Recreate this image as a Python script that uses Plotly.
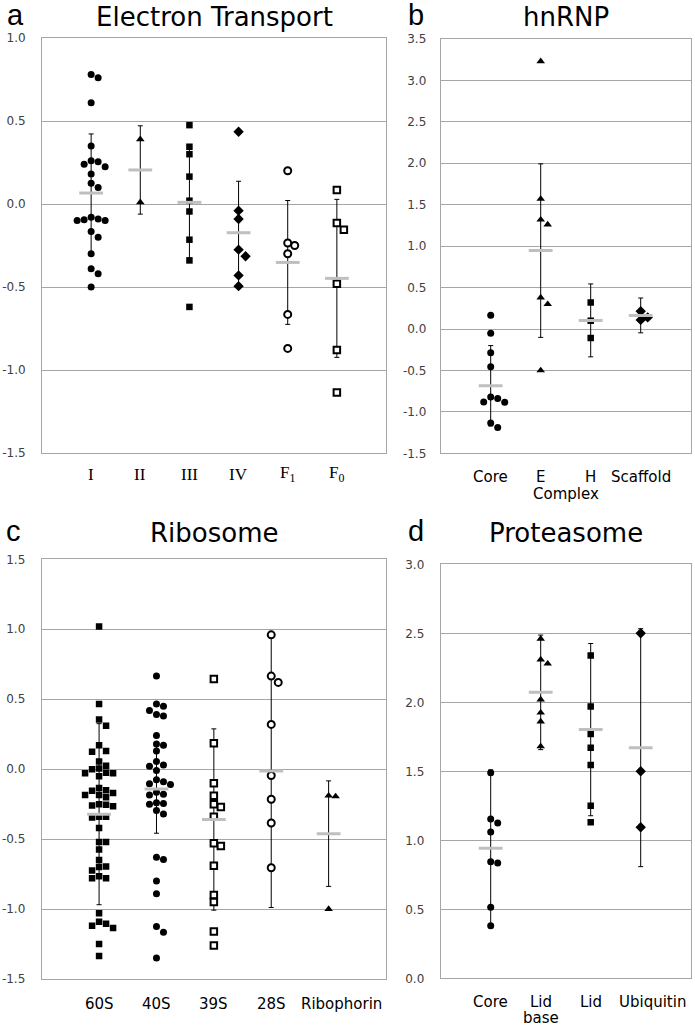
import math
import plotly.graph_objects as go

W, H = 695, 1028

# ---------------- data ----------------
# a: Electron Transport
et_cats = ["I", "II", "III", "IV", "F<sub>1</sub>", "F<sub>0</sub>"]
et_I = [0.78, 0.76, 0.61, 0.35, 0.26, 0.255, 0.24, 0.225, 0.18, 0.125, 0.10,
        -0.08, -0.09, -0.095, -0.10, -0.10, -0.165, -0.20, -0.30, -0.39, -0.42, -0.50]
et_II = [0.39, 0.01]
et_III = [0.475, 0.345, 0.30, 0.165, 0.02, -0.045, -0.215, -0.34, -0.62]
et_IV = [0.435, -0.04, -0.09, -0.275, -0.315, -0.43, -0.495]
et_F1 = [0.20, -0.235, -0.25, -0.30, -0.665, -0.87]
et_F0 = [0.085, -0.115, -0.155, -0.48, -0.88, -1.135]
et_mean = [0.066, 0.205, 0.01, -0.173, -0.352, -0.448]
et_err = [0.356, 0.266, 0.335, 0.31, 0.373, 0.476]

# b: hnRNP
hn_cats = ["Core", "E", "H", "Scaffold"]
hn_group_label = "Complex"
hn_core = [0.165, -0.05, -0.285, -0.455, -0.82, -0.84, -0.88, -0.885, -1.135, -1.19]
hn_E = [3.23, 1.57, 1.32, 1.26, 0.38, 0.30, -0.50]
hn_H = [0.32, 0.10, -0.11]
hn_scaffold = [0.215, 0.14, 0.11]
hn_mean = [-0.685, 0.946, 0.104, 0.164]
hn_err = [0.485, 1.047, 0.44, 0.21]

# c: Ribosome
rb_cats = ["60S", "40S", "39S", "28S", "Ribophorin"]
rb_60S = [1.02, 0.465, 0.355, 0.31, 0.17, 0.13, 0.125, 0.055, 0.025, 0.005, 0.0,
          -0.025, -0.03, -0.03, -0.05, -0.135, -0.15, -0.155, -0.17, -0.185, -0.185,
          -0.20, -0.25, -0.255, -0.26, -0.265, -0.34, -0.34, -0.345, -0.42, -0.52,
          -0.52, -0.575, -0.65, -0.695, -0.70, -0.725, -0.765, -0.78, -0.78, -1.03,
          -1.09, -1.105, -1.12, -1.135, -1.25, -1.335]
rb_40S = [0.665, 0.465, 0.45, 0.42, 0.39, 0.38, 0.24, 0.18, 0.17, 0.13, 0.055, 0.03,
          0.02, -0.01, -0.075, -0.09, -0.105, -0.11, -0.165, -0.18, -0.185, -0.24,
          -0.245, -0.25, -0.295, -0.32, -0.63, -0.645, -0.80, -0.89, -1.125, -1.165, -1.35]
rb_39S = [0.645, 0.185, -0.10, -0.19, -0.25, -0.27, -0.34, -0.53, -0.55, -0.69,
          -0.90, -0.95, -1.16, -1.26]
rb_28S = [0.96, 0.665, 0.62, 0.32, -0.045, -0.215, -0.385, -0.705]
rb_ribophorin = [-0.19, -0.195, -1.0]
rb_mean = [-0.322, -0.141, -0.36, -0.014, -0.461]
rb_err = [0.647, 0.317, 0.648, 0.975, 0.377]

# d: Proteasome
pr_cats = ["Core", "Lid base", "Lid", "Ubiquitin"]
pr_core = [1.49, 1.155, 1.125, 1.06, 0.845, 0.835, 0.515, 0.38]
pr_lidbase = [2.46, 2.31, 2.28, 2.02, 1.925, 1.86, 1.68]
pr_lid = [2.34, 1.97, 1.77, 1.67, 1.545, 1.25, 1.13]
pr_ubiquitin = [2.50, 1.50, 1.095]
pr_mean = [0.942, 2.072, 1.802, 1.671]
pr_err = [0.568, 0.415, 0.624, 0.862]

# ---------------- layout geometry ----------------
def px_dom(x0, x1, y0, y1):
    return [x0 / W, x1 / W], [1 - y1 / H, 1 - y0 / H]

CATFONT = dict(family="DejaVu Sans", size=15, color="black")
panels = {
    "a": dict(ax="", dom=px_dom(42, 386, 38, 453), xr=[0, 7], yr=[-1.5, 1.0],
              cats=et_cats, groups=[(et_I, "circle", False), (et_II, "triangle-up", False),
                                    (et_III, "square", False), (et_IV, "diamond", False),
                                    (et_F1, "circle", True), (et_F0, "square", True)],
              mean=et_mean, err=et_err, title="Electron Transport", letter="a",
              catfont=dict(family="Liberation Serif", size=17, color="black"),
              labely=474, ystand=13, ttl=17, shift={}),
    "b": dict(ax="2", dom=px_dom(440.7, 690.7, 39, 453.3), xr=[0, 5], yr=[-1.5, 3.5],
              cats=hn_cats, groups=[(hn_core, "circle", False), (hn_E, "triangle-up", False),
                                    (hn_H, "square", False), (hn_scaffold, "diamond", False)],
              mean=hn_mean, err=hn_err, title="hnRNP", letter="b",
              catfont=CATFONT, labely=477, ystand=11, ttl=17, shift={}),
    "c": dict(ax="3", dom=px_dom(41.7, 386, 559.3, 979), xr=[0, 6], yr=[-1.5, 1.5],
              cats=rb_cats, groups=[(rb_60S, "square", False), (rb_40S, "circle", False),
                                    (rb_39S, "square", True), (rb_28S, "circle", True),
                                    (rb_ribophorin, "triangle-up", False)],
              mean=rb_mean, err=rb_err, title="Ribosome", letter="c",
              catfont=CATFONT, labely=1004, ystand=13, ttl=533, shift={4: 13}),
    "d": dict(ax="4", dom=px_dom(440.7, 690.7, 564.3, 978.3), xr=[0, 5], yr=[0, 3.0],
              cats=pr_cats, groups=[(pr_core, "circle", False), (pr_lidbase, "triangle-up", False),
                                    (pr_lid, "square", False), (pr_ubiquitin, "diamond", False)],
              mean=pr_mean, err=pr_err, title="Proteasome", letter="d",
              catfont=CATFONT, labely=1002, ystand=13, ttl=533, shift={3: 12}),
}


def swarm(vals, cx, xpx, ypx, step=7.0, dmin=6.8):
    placed, xs = [], []
    cands = [0]
    for j in range(1, 12):
        cands += [j, -j]
    for v in vals:
        dx = 0
        for c in cands:
            dx = c * step
            if all(math.hypot(dx - px, (v - pv) * ypx) >= dmin for px, pv in placed):
                break
        placed.append((dx, v))
        xs.append(cx + dx / xpx)
    return xs


SIZES = {"circle": 7, "square": 6.5, "triangle-up": 7.5, "diamond": 8}
GRID = "#a6a6a6"
fig = go.Figure()
layout = dict(width=W, height=H,
              margin=dict(l=0, r=0, t=0, b=0, pad=0, autoexpand=False),
              paper_bgcolor="white", plot_bgcolor="white", showlegend=False)
annotations = []

for key, p in panels.items():
    ax = p["ax"]
    xd, yd = p["dom"]
    xpx = (xd[1] - xd[0]) * W / (p["xr"][1] - p["xr"][0])
    ypx = (yd[1] - yd[0]) * H / (p["yr"][1] - p["yr"][0])
    xref, yref = "x" + ax, "y" + ax
    n = len(p["cats"])
    cxs = list(range(1, n + 1))
    # error bars
    fig.add_trace(go.Scatter(x=cxs, y=p["mean"], mode="markers", xaxis=xref, yaxis=yref,
                             marker=dict(size=1, color="rgba(0,0,0,0)"),
                             error_y=dict(type="data", array=p["err"], color="black",
                                          thickness=1, width=2.5),
                             hoverinfo="skip"))
    # points
    for i, (vals, sym, opn) in enumerate(p["groups"]):
        xs = swarm(vals, i + 1, xpx, ypx)
        sz = SIZES[sym]
        if opn:
            mk = dict(symbol=sym, size=sz, color="white", line=dict(color="black", width=2))
        else:
            mk = dict(symbol=sym, size=sz, color="black", line=dict(width=0))
        fig.add_trace(go.Scatter(x=xs, y=vals, mode="markers", xaxis=xref, yaxis=yref,
                                 marker=mk))
    # mean bars
    fig.add_trace(go.Scatter(x=cxs, y=p["mean"], mode="markers", xaxis=xref, yaxis=yref,
                             marker=dict(symbol="line-ew", size=17,
                                         line=dict(color="#bfbfbf", width=3))))
    yt = []
    v = p["yr"][0]
    while v <= p["yr"][1] + 1e-9:
        yt.append(round(v, 2))
        v += 0.5
    layout["xaxis" + ax] = dict(domain=xd, range=p["xr"], anchor=yref,
                                showticklabels=False, showgrid=False, zeroline=False,
                                showline=True, mirror=True, linecolor=GRID, linewidth=1,
                                ticks="", automargin=False)
    layout["yaxis" + ax] = dict(domain=yd, range=p["yr"], anchor=xref, tickvals=yt,
                                ticktext=["%.1f" % t for t in yt], showgrid=True,
                                gridcolor=GRID, gridwidth=1, zeroline=False,
                                showline=True, mirror=True, linecolor=GRID, linewidth=1,
                                ticks="", ticklabelstandoff=p["ystand"], automargin=False,
                                tickfont=dict(family="DejaVu Sans", size=12, color="#404040"))
    # category labels
    for i, lab in enumerate(p["cats"]):
        lines = lab.split(" ") if key == "d" and " " in lab else [lab]
        xi = i + 1 + p["shift"].get(i, 0) / xpx
        for j, ln in enumerate(lines):
            annotations.append(dict(text=ln, xref=xref, yref="paper", x=xi,
                                    y=1 - (p["labely"] + 16 * j) / H,
                                    xanchor="center", yanchor="middle", showarrow=False,
                                    font=p["catfont"]))
    # title
    xc = (xd[0] + xd[1]) / 2
    annotations.append(dict(text=p["title"], xref="paper", yref="paper", x=xc,
                            y=1 - p["ttl"] / H, xanchor="center", yanchor="middle",
                            showarrow=False,
                            font=dict(family="DejaVu Sans", size=26, color="black")))
    lx = {"a": 5, "b": 406, "c": 4, "d": 406}[key]
    annotations.append(dict(text=p["letter"], xref="paper", yref="paper", x=lx / W,
                            y=1 - (p["ttl"] - 2) / H, xanchor="left", yanchor="middle",
                            showarrow=False,
                            font=dict(family="Liberation Sans", size=29, color="black")))

annotations.append(dict(text=hn_group_label, xref="x2", yref="paper", x=2.5, y=1 - 494 / H,
                        xanchor="center", yanchor="middle", showarrow=False,
                        font=CATFONT))
layout["annotations"] = annotations
fig.update_layout(**layout)
fig.write_html("out.html", config={"displayModeBar": False},
               post_script="document.body.style.margin='0';document.body.style.padding='0';")
